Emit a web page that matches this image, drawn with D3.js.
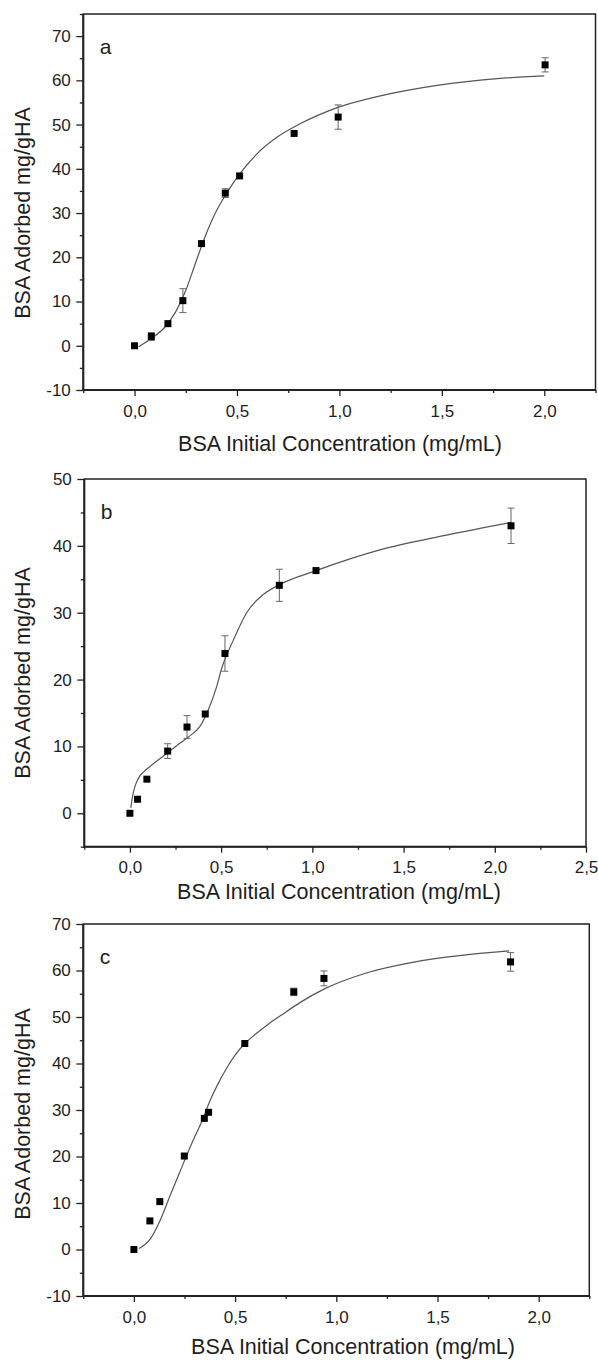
<!DOCTYPE html>
<html>
<head>
<meta charset="utf-8">
<script src="https://cdn.jsdelivr.net/npm/d3@7"></script>
<style>
body{margin:0;background:#fff;}
svg{display:block;font-family:"Liberation Sans",Arial,sans-serif;}
</style>
</head>
<body>
<svg id="chart" width="598" height="1360"></svg>
<script>
// panel a - measured points, error bars and fitted curve
var a_x = [0, 0.082, 0.163, 0.236, 0.327, 0.443, 0.513, 0.779, 0.994, 2.004];
var a_y = [0, 2.1, 5.0, 10.2, 23.1, 34.5, 38.4, 48.0, 51.7, 63.5];
var a_err = [0, 0.9, 0, 2.7, 0, 1.0, 0, 0, 2.75, 1.6];
var a_fit_x = [0.02, 0.08, 0.15, 0.2, 0.25, 0.3, 0.35, 0.4, 0.45, 0.5, 0.6, 0.7, 0.8, 0.9, 1.0, 1.2, 1.4, 1.6, 1.8, 2.0];
var a_fit_y = [-0.2, 1.6, 4.3, 7.6, 12.5, 19, 25.3, 30.5, 34.5, 38.0, 43.5, 47.3, 50, 52.2, 54, 56.5, 58.3, 59.6, 60.5, 61.0];
var a_xticks = [0, 0.5, 1, 1.5, 2];
var a_xminor = [-0.25, 0.25, 0.75, 1.25, 1.75, 2.25];
var a_yticks = [-10, 0, 10, 20, 30, 40, 50, 60, 70];
var a_yminor = [-5, 5, 15, 25, 35, 45, 55, 65, 75];

// panel b
var b_x = [0, 0.042, 0.093, 0.207, 0.313, 0.413, 0.521, 0.819, 1.02, 2.089];
var b_y = [0, 2.1, 5.1, 9.3, 12.9, 14.85, 23.9, 34.1, 36.3, 43.0];
var b_err = [0, 0, 0, 1.1, 1.7, 0, 2.65, 2.4, 0, 2.65];
var b_fit_x = [0.005, 0.015, 0.03, 0.055, 0.08, 0.11, 0.18, 0.256, 0.32, 0.384, 0.43, 0.475, 0.5, 0.567, 0.64, 0.73, 0.82, 1.02, 1.37, 1.736, 2.089];
var b_fit_y = [0.8, 2.6, 4.2, 5.6, 6.3, 7.0, 8.5, 10.1, 11.4, 13.0, 15.5, 18.9, 21.4, 25.9, 30.0, 32.7, 34.2, 36.3, 39.4, 41.6, 43.5];
var b_xticks = [0, 0.5, 1, 1.5, 2, 2.5];
var b_xminor = [-0.25, 0.25, 0.75, 1.25, 1.75, 2.25];
var b_yticks = [0, 10, 20, 30, 40, 50];
var b_yminor = [-5, 5, 15, 25, 35, 45];

// panel c
var c_x = [0, 0.079, 0.128, 0.249, 0.348, 0.369, 0.548, 0.79, 0.939, 1.861];
var c_y = [0, 6.15, 10.3, 20.1, 28.2, 29.5, 44.3, 55.4, 58.3, 61.85];
var c_err = [0, 0, 0, 0, 0, 0, 0, 0.8, 1.6, 2.0];
var c_fit_x = [0.025, 0.083, 0.13, 0.18, 0.23, 0.289, 0.338, 0.379, 0.42, 0.461, 0.5, 0.548, 0.6, 0.659, 0.725, 0.824, 0.939, 1.136, 1.383, 1.63, 1.853];
var c_fit_y = [0.2, 2.4, 6.3, 11.7, 17.0, 23.1, 27.8, 32.3, 36.0, 39.2, 41.8, 44.3, 46.3, 48.3, 50.3, 53.2, 56.0, 59.3, 61.8, 63.3, 64.2];
var c_xticks = [0, 0.5, 1, 1.5, 2];
var c_xminor = [-0.25, 0.25, 0.75, 1.25, 1.75, 2.25];
var c_yticks = [-10, 0, 10, 20, 30, 40, 50, 60, 70];
var c_yminor = [-5, 5, 15, 25, 35, 45, 55, 65];

var x_title = "BSA Initial Concentration (mg/mL)";
var y_title = "BSA Adorbed mg/gHA";

// layout of each panel (pixel frame)
var panels = [
  {tag:"a", x:a_x, y:a_y, err:a_err, fx:a_fit_x, fy:a_fit_y,
   xt:a_xticks, xm:a_xminor, yt:a_yticks, ym:a_yminor,
   xd:[-0.25,2.25], yd:[-10,75],
   left:83.3, right:595.5, top:14, bottom:390,
   xtitle_x:340, xtitle_y:451, ytitle_y:213},
  {tag:"b", x:b_x, y:b_y, err:b_err, fx:b_fit_x, fy:b_fit_y,
   xt:b_xticks, xm:b_xminor, yt:b_yticks, ym:b_yminor,
   xd:[-0.25,2.5], yd:[-5,50],
   left:84.3, right:586, top:479, bottom:846.7,
   xtitle_x:339, xtitle_y:899, ytitle_y:673},
  {tag:"c", x:c_x, y:c_y, err:c_err, fx:c_fit_x, fy:c_fit_y,
   xt:c_xticks, xm:c_xminor, yt:c_yticks, ym:c_yminor,
   xd:[-0.25,2.25], yd:[-10,70],
   left:83.3, right:589.3, top:924, bottom:1296,
   xtitle_x:353, xtitle_y:1354, ytitle_y:1114}
];

var svg = d3.select("#chart");
var comma = function(d){ return d3.format(".1f")(d).replace(".", ","); };

panels.forEach(function(p){
  draw_panel(p);
});

function draw_panel(p){
  var g = svg.append("g").attr("class","panel_"+p.tag);
  var x_scale = d3.scaleLinear().domain(p.xd).range([p.left,p.right]);
  var y_scale = d3.scaleLinear().domain(p.yd).range([p.bottom,p.top]);

  // x axis major / minor
  var x_axis = d3.axisBottom(x_scale).tickValues(p.xt).tickSize(6).tickPadding(8.5).tickFormat(comma);
  var x_minor = d3.axisBottom(x_scale).tickValues(p.xm).tickSize(3).tickFormat("");
  var y_axis = d3.axisLeft(y_scale).tickValues(p.yt).tickSize(7).tickPadding(5.5).tickFormat(function(d){return String(d);});
  var y_minor = d3.axisLeft(y_scale).tickValues(p.ym).tickSize(3.5).tickFormat("");

  [[x_axis,"translate(0,"+p.bottom+")"],[x_minor,"translate(0,"+p.bottom+")"],
   [y_axis,"translate("+p.left+",0)"],[y_minor,"translate("+p.left+",0)"]].forEach(function(a){
    var ax = g.append("g").attr("transform",a[1]).call(a[0]);
    ax.select(".domain").remove();
    ax.selectAll(".tick line").attr("stroke","#222").attr("stroke-width",1.3);
    ax.selectAll(".tick text").attr("fill","#1e1e1e").attr("font-size","17px")
      .attr("font-family","Liberation Sans, Arial, sans-serif");
  });

  // frame
  g.append("rect").attr("x",p.left).attr("y",p.top)
    .attr("width",p.right-p.left).attr("height",p.bottom-p.top)
    .attr("fill","none").attr("stroke","#222").attr("stroke-width",1.5);
  g.append("path").attr("d","M"+p.left+","+p.top+"V"+p.bottom+"H"+p.right)
    .attr("fill","none").attr("stroke","#222").attr("stroke-width",2);

  // fitted curve
  var fit = p.fx.map(function(v,i){ return [v,p.fy[i]]; });
  var line = d3.line().x(function(d){return x_scale(d[0]);}).y(function(d){return y_scale(d[1]);})
    .curve(d3.curveMonotoneX);
  g.append("path").attr("d",line(fit)).attr("fill","none")
    .attr("stroke","#555").attr("stroke-width",1.2);

  var pts = p.x.map(function(v,i){ return {x:v,y:p.y[i],e:p.err[i]}; });

  // error bars
  var eb = g.append("g").selectAll("g").data(pts.filter(function(d){return d.e>0;})).enter().append("g")
    .attr("stroke","#666").attr("stroke-width",1).attr("fill","none");
  eb.append("line")
    .attr("x1",function(d){return x_scale(d.x);}).attr("x2",function(d){return x_scale(d.x);})
    .attr("y1",function(d){return y_scale(d.y+d.e);}).attr("y2",function(d){return y_scale(d.y-d.e);});
  eb.append("line")
    .attr("x1",function(d){return x_scale(d.x)-3.5;}).attr("x2",function(d){return x_scale(d.x)+3.5;})
    .attr("y1",function(d){return y_scale(d.y+d.e);}).attr("y2",function(d){return y_scale(d.y+d.e);});
  eb.append("line")
    .attr("x1",function(d){return x_scale(d.x)-3.5;}).attr("x2",function(d){return x_scale(d.x)+3.5;})
    .attr("y1",function(d){return y_scale(d.y-d.e);}).attr("y2",function(d){return y_scale(d.y-d.e);});

  // square markers
  var s = 7;
  g.append("g").selectAll("rect").data(pts).enter().append("rect")
    .attr("x",function(d){return x_scale(d.x)-s/2;})
    .attr("y",function(d){return y_scale(d.y)-s/2;})
    .attr("width",s).attr("height",s).attr("fill","#000");

  // panel letter
  g.append("text").attr("x",p.left+16.5).attr("y",p.top+40).text(p.tag)
    .attr("font-size","21px").attr("fill","#1e1e1e");

  // axis titles
  g.append("text").attr("x",p.xtitle_x).attr("y",p.xtitle_y).attr("text-anchor","middle")
    .attr("font-size","21.5px").attr("fill","#1e1e1e").text(x_title);
  g.append("text").attr("transform","translate(29.5,"+p.ytitle_y+") rotate(-90)")
    .attr("text-anchor","middle").attr("font-size","21.5px").attr("fill","#1e1e1e").text(y_title);
}
</script>
</body>
</html>
